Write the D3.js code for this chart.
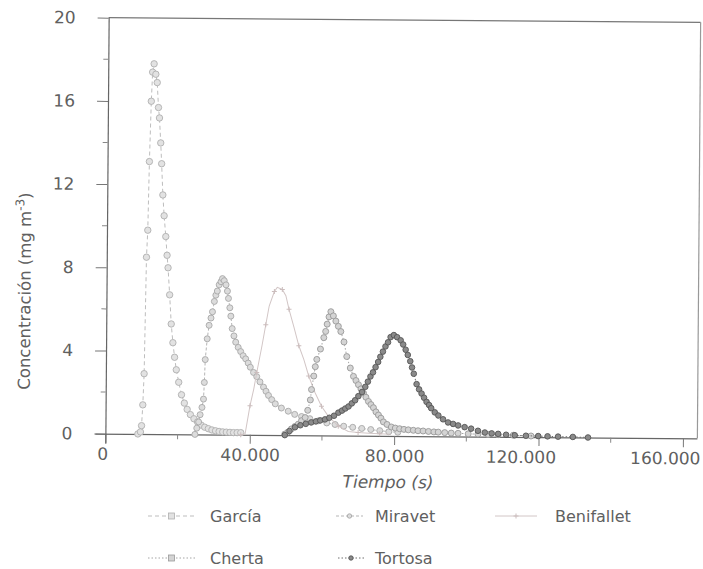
<!DOCTYPE html>
<html>
<head>
<meta charset="utf-8">
<script src="https://cdn.jsdelivr.net/npm/d3@7/dist/d3.min.js"></script>
<style>
html,body{margin:0;padding:0;background:#fff;}
svg{display:block;}
text{font-family:"DejaVu Sans",sans-serif;fill:#606060;}
</style>
</head>
<body>
<svg id="chart" width="703" height="569"></svg>
<script>
// ---- data (time in s, concentration in mg m-3) ----
const seriesNames = ["García", "Miravet", "Benifallet", "Cherta", "Tortosa"];
const xTickValues = [0, 40000, 80000, 120000, 160000];
const xTickLabels = ["0", "40.000", "80.000", "120.000", "160.000"];
const yTickValues = [0, 4, 8, 12, 16, 20];
const yTickLabels = ["0", "4", "8", "12", "16", "20"];

const garcia = [[9000,0],[9700,0.1],[10000,0.4],[10300,1.4],[10600,2.9],[11000,8.5],[11300,9.8],[11600,13.1],[12000,16.0],[12300,17.4],[12700,17.8],[13200,17.3],[13600,16.9],[14000,15.7],[14300,15.2],[14700,14.0],[15000,13.0],[15400,11.5],[15800,10.5],[16300,9.5],[16700,8.6],[17000,8.0],[17500,6.7],[18000,5.3],[18500,4.4],[19000,3.7],[19500,3.1],[20200,2.5],[21000,1.9],[21800,1.5],[22600,1.2],[23500,0.95],[24500,0.75],[25500,0.6],[26500,0.45],[27500,0.35],[28500,0.28],[29500,0.22],[30500,0.18],[31500,0.15],[32500,0.13],[33500,0.12],[34500,0.11],[35500,0.1],[36500,0.1],[37500,0.1]];

const miravet = [[24800,0],[25300,0.3],[25800,0.6],[26200,0.95],[26700,1.3],[27100,1.7],[27300,2.5],[27500,3.6],[28000,4.6],[28500,5.25],[29000,5.6],[29400,5.9],[29900,6.4],[30300,6.7],[30700,6.9],[31200,7.2],[31700,7.35],[32100,7.5],[32600,7.4],[33100,7.2],[33500,6.9],[33800,6.55],[34200,6.1],[34500,5.7],[34900,5.1],[35400,4.75],[35900,4.45],[36600,4.2],[37300,4.0],[38000,3.8],[38700,3.65],[39400,3.45],[40000,3.25],[40900,3.0],[41800,2.8],[42700,2.55],[43700,2.3],[44400,2.1],[45100,1.9],[46000,1.7],[47000,1.5],[48700,1.3],[50600,1.15],[52400,1.0],[54300,0.9],[56600,0.8],[59000,0.7],[61300,0.6],[63600,0.53],[66000,0.45],[68500,0.4],[71000,0.35],[73500,0.3],[76000,0.25],[78500,0.2],[81000,0.18]];

const benifallet = [[37500,0],[38700,0.05],[40000,1.4],[41000,2.2],[41800,3.0],[43200,4.3],[44200,5.3],[45100,6.2],[46500,6.9],[47300,7.1],[48700,7.0],[49700,6.7],[50600,6.05],[52000,5.2],[53400,4.3],[54800,3.65],[56200,2.85],[58000,2.05],[59800,1.4],[61700,0.93],[64500,0.45],[67300,0.2],[70000,0.15],[73000,0.12],[76000,0.1],[79000,0.08]];

const cherta = [[49700,0.05],[50600,0.15],[51500,0.3],[52500,0.42],[53400,0.53],[54300,0.7],[55300,0.85],[56000,1.2],[56700,1.7],[57000,2.2],[57600,2.85],[58000,3.3],[58400,3.65],[59400,4.15],[60300,4.7],[60800,5.0],[61200,5.35],[61700,5.7],[62200,5.95],[62900,5.75],[63600,5.5],[64300,5.25],[65000,5.0],[65900,4.5],[66700,3.8],[67700,3.25],[68600,2.85],[69300,2.65],[70000,2.45],[70700,2.25],[71400,2.05],[72100,1.85],[72800,1.65],[73500,1.5],[74200,1.35],[74900,1.15],[75600,1.0],[76300,0.85],[77000,0.67],[78000,0.55],[79200,0.43],[80300,0.38],[81500,0.35],[82700,0.32],[83900,0.3],[85300,0.28],[86600,0.26],[88000,0.25],[89500,0.23],[91000,0.21],[92200,0.2],[94000,0.18],[95800,0.16],[97700,0.15],[100500,0.13],[103200,0.12],[106000,0.11],[108800,0.1],[113000,0.08],[117900,0.05]];

const tortosa = [[49700,0],[51000,0.2],[52500,0.38],[54000,0.48],[55500,0.55],[57000,0.62],[58300,0.67],[59500,0.72],[60800,0.77],[62000,0.85],[63300,0.95],[64500,1.1],[65500,1.2],[66400,1.3],[67300,1.4],[68200,1.55],[69100,1.7],[70000,1.9],[71000,2.1],[71900,2.35],[72600,2.6],[73300,2.85],[74000,3.05],[74700,3.3],[75400,3.55],[76000,3.8],[76700,4.05],[77400,4.3],[78100,4.5],[78800,4.75],[79700,4.85],[80600,4.75],[81600,4.6],[82300,4.4],[83000,4.15],[83600,3.9],[84300,3.6],[84800,3.3],[85300,3.0],[86100,2.5],[86800,2.25],[87500,2.05],[88200,1.85],[88900,1.65],[89600,1.5],[90200,1.35],[91200,1.15],[92200,1.0],[93500,0.82],[94900,0.67],[96300,0.6],[97700,0.53],[99500,0.45],[101300,0.38],[103200,0.28],[105100,0.2],[107000,0.16],[108800,0.14],[111000,0.1],[113400,0.08],[116500,0.06],[119900,0.05],[122500,0.04],[125400,0.03],[129500,0.02],[133700,0.0]];

// ---- styles ----
const styles = [
  {data: garcia,     line:"#bdbdbd", dash:"4,3", mstroke:"#b0b0b0", mfill:"#e2e2e2", r:3.2, marker:"circle", lmark:"square"},
  {data: miravet,    line:"#b5b5b5", dash:"3,2", mstroke:"#a8a8a8", mfill:"#dcdcdc", r:3.0, marker:"circle", lmark:"dot"},
  {data: benifallet, line:"#d2c6c6", dash:null,  mstroke:"#cbbdbd", mfill:"none",    r:2.5, marker:"plus",   lmark:"plus"},
  {data: cherta,     line:"#a5a5a5", dash:"1.5,2", mstroke:"#999",  mfill:"#d4d4d4", r:3.0, marker:"circle", lmark:"square"},
  {data: tortosa,    line:"#6e6e6e", dash:"1.5,2", mstroke:"#555",  mfill:"#8a8a8a", r:2.8, marker:"circle", lmark:"dot"}
];

const svg = d3.select("#chart");
const g = svg.append("g").attr("transform","rotate(0.45,400,230)");

const x = d3.scaleLinear().domain([0,164000]).range([107,699]);
const y = d3.scaleLinear().domain([0,20]).range([436,20]);

// frame (top and right)
g.append("line").attr("x1",x(0)).attr("x2",x(164000)).attr("y1",y(20)).attr("y2",y(20)).attr("stroke","#777").attr("stroke-width",1.2);
g.append("line").attr("x1",x(164000)).attr("x2",x(164000)).attr("y1",y(20)).attr("y2",y(0)).attr("stroke","#999").attr("stroke-width",1.2);

// x axis
const xAxis = d3.axisBottom(x).tickValues(xTickValues).tickFormat((d,i)=>xTickLabels[i]).tickSize(9).tickPadding(5);
const gx = g.append("g").attr("transform",`translate(0,${y(0)})`).call(xAxis);
gx.select(".domain").attr("stroke","#666").attr("stroke-width",1.2).attr("d",`M${x(0)-10},0.5H${x(164000)}`);
gx.selectAll(".tick line").attr("stroke","#777");
gx.selectAll(".tick text").attr("font-size",17).attr("font-family","DejaVu Sans").attr("fill","#666")
  .attr("dx",(d,i)=> i===0 ? -3 : (i>=3 ? -18 : 0));
// minor x ticks
g.append("g").selectAll("line").data([20000,60000,100000,140000]).join("line")
  .attr("x1",d=>x(d)).attr("x2",d=>x(d)).attr("y1",y(0)).attr("y2",y(0)+5).attr("stroke","#888");

// y axis
const yAxis = d3.axisLeft(y).tickValues(yTickValues).tickFormat((d,i)=>yTickLabels[i]).tickSize(11).tickPadding(22);
const gy = g.append("g").attr("transform",`translate(${x(0)},0)`).call(yAxis);
gy.select(".domain").attr("stroke","#666").attr("stroke-width",1.2).attr("d",`M0.5,${y(20)}V${y(0)+10}`);
gy.selectAll(".tick line").attr("stroke","#777");
gy.selectAll(".tick text").attr("font-size",17).attr("font-family","DejaVu Sans").attr("fill","#666");
g.append("g").selectAll("line").data([2,6,10,14,18]).join("line")
  .attr("x1",x(0)).attr("x2",x(0)-5).attr("y1",d=>y(d)).attr("y2",d=>y(d)).attr("stroke","#888");

// axis titles
g.append("text").attr("x",390).attr("y",488).attr("text-anchor","middle")
  .attr("font-size",17).attr("font-style","italic").attr("fill","#666").text("Tiempo (s)");
const yt = g.append("text").attr("transform","translate(31,294) rotate(-90)").attr("text-anchor","middle")
  .attr("font-size",16.5).attr("fill","#666");
yt.append("tspan").text("Concentración (mg m");
yt.append("tspan").attr("font-size",12).attr("dy",-7).text("-3");
yt.append("tspan").attr("dy",7).text(")");

// series
const line = d3.line().x(d=>x(d[0])).y(d=>y(d[1]));
function drawMarker(sel, s, px, py, kind){
  if(kind==="circle"||kind==="dot"){
    sel.append("circle").attr("cx",px).attr("cy",py).attr("r",kind==="dot"?2.2:s.r)
      .attr("fill",s.mfill).attr("stroke",s.mstroke).attr("stroke-width",0.9);
  } else if(kind==="square"){
    sel.append("rect").attr("x",px-3).attr("y",py-3).attr("width",6).attr("height",6)
      .attr("fill",s.mfill).attr("stroke",s.mstroke).attr("stroke-width",0.8);
  } else if(kind==="plus"){
    sel.append("path").attr("d",`M${px-s.r},${py}H${px+s.r}M${px},${py-s.r}V${py+s.r}`)
      .attr("stroke",s.mstroke).attr("stroke-width",1);
  }
}
styles.forEach(s=>{
  const sg = g.append("g");
  sg.append("path").datum(s.data).attr("d",line).attr("fill","none")
    .attr("stroke",s.line).attr("stroke-width",1).attr("stroke-dasharray",s.dash);
  const step = s.marker==="plus" ? 2 : 1;
  s.data.forEach((d,i)=>{ if(i%step===0) drawMarker(sg, s, x(d[0]), y(d[1]), s.marker); });
});

// legend
const legendPos = [
  {lx1:148, lx2:195, tx:210, ty:522},
  {lx1:336, lx2:363, tx:375, ty:522},
  {lx1:495, lx2:537, tx:555, ty:522},
  {lx1:148, lx2:195, tx:210, ty:564},
  {lx1:338, lx2:364, tx:375, ty:564}
];
const lg = svg.append("g");
seriesNames.forEach((name,i)=>{
  const s = styles[i], p = legendPos[i];
  const ly = p.ty - 6;
  lg.append("line").attr("x1",p.lx1).attr("x2",p.lx2).attr("y1",ly).attr("y2",ly)
    .attr("stroke",s.line).attr("stroke-width",1).attr("stroke-dasharray",s.dash);
  drawMarker(lg, s, (p.lx1+p.lx2)/2, ly, s.lmark);
  lg.append("text").attr("x",p.tx).attr("y",p.ty).attr("font-size",16).attr("fill","#666").text(name);
});
</script>
</body>
</html>
